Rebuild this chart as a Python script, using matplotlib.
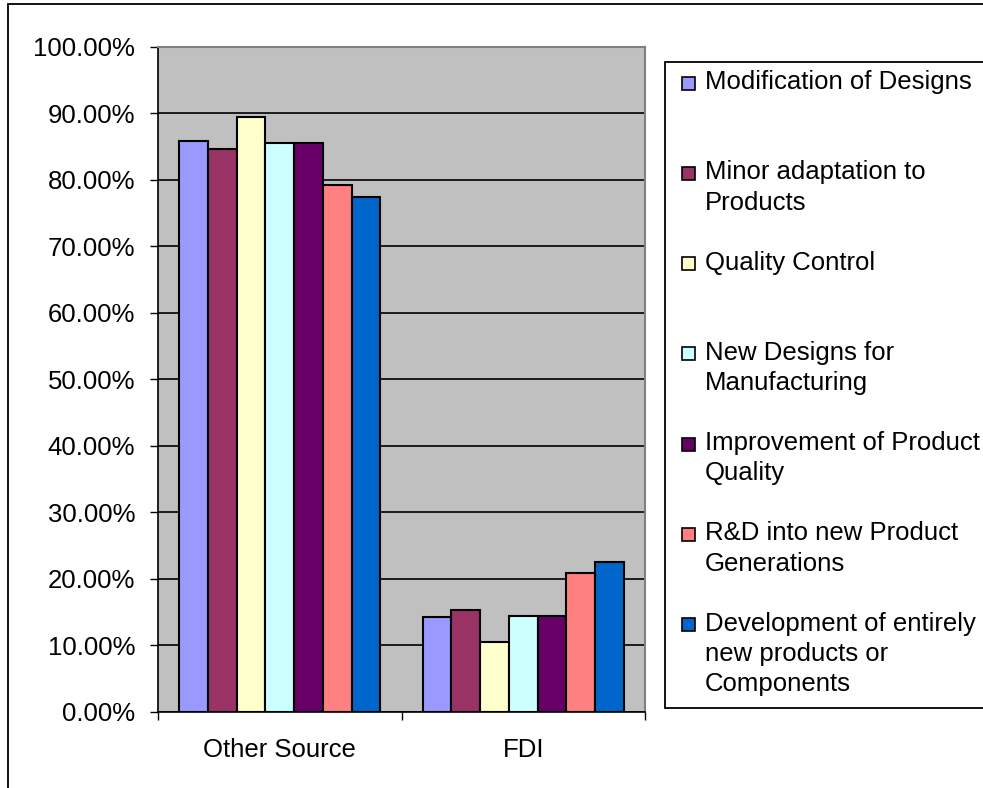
import numpy as np
import matplotlib.pyplot as plt
from matplotlib.patches import Rectangle
from matplotlib.ticker import PercentFormatter, FixedLocator

plt.rcParams['font.family'] = ['Liberation Sans', 'DejaVu Sans']
plt.rcParams['font.size'] = 18.5

W, H = 983, 788  # output size in pixels

sources = ["Other Source", "FDI"]
activities = [
    "Modification of Designs",
    "Minor adaptation to\nProducts",
    "Quality Control",
    "New Designs for\nManufacturing",
    "Improvement of Product\nQuality",
    "R&D into new Product\nGenerations",
    "Development of entirely\nnew products or\nComponents",
]
other_source = [85.8, 84.7, 89.5, 85.6, 85.6, 79.2, 77.5]
fdi = [14.2, 15.3, 10.5, 14.4, 14.4, 20.8, 22.5]
colors = ["#9999FF", "#993366", "#FFFFCC", "#CCFFFF", "#660066", "#FF8080", "#0066CC"]


def px(x, y):
    # pixel position (from top-left) -> figure fraction
    return x / W, 1 - y / H


fig = plt.figure(figsize=(W / 100, H / 100), dpi=100)
fig.patch.set_facecolor("white")

left, top = px(158, 47)
right, bottom = px(645, 711.5)
ax = fig.add_axes([left, bottom, right - left, top - bottom])
ax.set_facecolor("#C0C0C0")

x = np.arange(len(sources))
w = 0.118
for i, (name, col) in enumerate(zip(activities, colors)):
    ax.bar(x + (i - 3) * w, [other_source[i], fdi[i]], w, color=col,
           edgecolor="black", linewidth=1.5, zorder=3, label=name)

ax.set_xlim(-0.5, 1.5)
ax.set_ylim(0, 100)
ax.set_yticks(np.arange(0, 101, 10))
ax.yaxis.set_major_formatter(PercentFormatter(xmax=100, decimals=2))
ax.yaxis.grid(True, color="black", linewidth=1.2)
ax.set_axisbelow(True)
ax.tick_params(axis="y", direction="out", length=5.8, width=1, pad=10.5)

ax.set_xticks(x)
ax.set_xticklabels(sources)
ax.xaxis.set_minor_locator(FixedLocator([-0.5, 0.5, 1.5]))
ax.tick_params(axis="x", which="major", length=0, pad=19)
ax.tick_params(axis="x", which="minor", direction="out", length=6, width=1)

for side in ["top", "right"]:
    ax.spines[side].set_color("#808080")
    ax.spines[side].set_linewidth(1.5)
for side in ["left", "bottom"]:
    ax.spines[side].set_color("black")
    ax.spines[side].set_linewidth(1.2)

# chart outer frame
fx, fy = px(7.5, 4)
fig.patches.append(Rectangle((fx, -0.2), 1.5, fy + 0.2, transform=fig.transFigure,
                             fill=False, edgecolor="black", linewidth=1.3))

# legend box
lx0, ly1 = px(665, 62)
_, ly0 = px(665, 708)
fig.patches.append(Rectangle((lx0, ly0), 1.0, ly1 - ly0, transform=fig.transFigure,
                             facecolor="white", edgecolor="black", linewidth=1.3))

# legend entries, evenly stepped
first_line = 83.0
step = 90.3
box = 13
for i, (name, col) in enumerate(zip(activities, colors)):
    cy = first_line + i * step
    bx, by = px(682, cy + box / 2)
    fig.patches.append(Rectangle((bx, by), box / W, box / H, transform=fig.transFigure,
                                 facecolor=col, edgecolor="black", linewidth=1.2))
    tx, ty = px(705, cy - 13)
    fig.text(tx, ty, name, ha="left", va="top", linespacing=1.33)

fig.savefig("out.png", dpi=100)
